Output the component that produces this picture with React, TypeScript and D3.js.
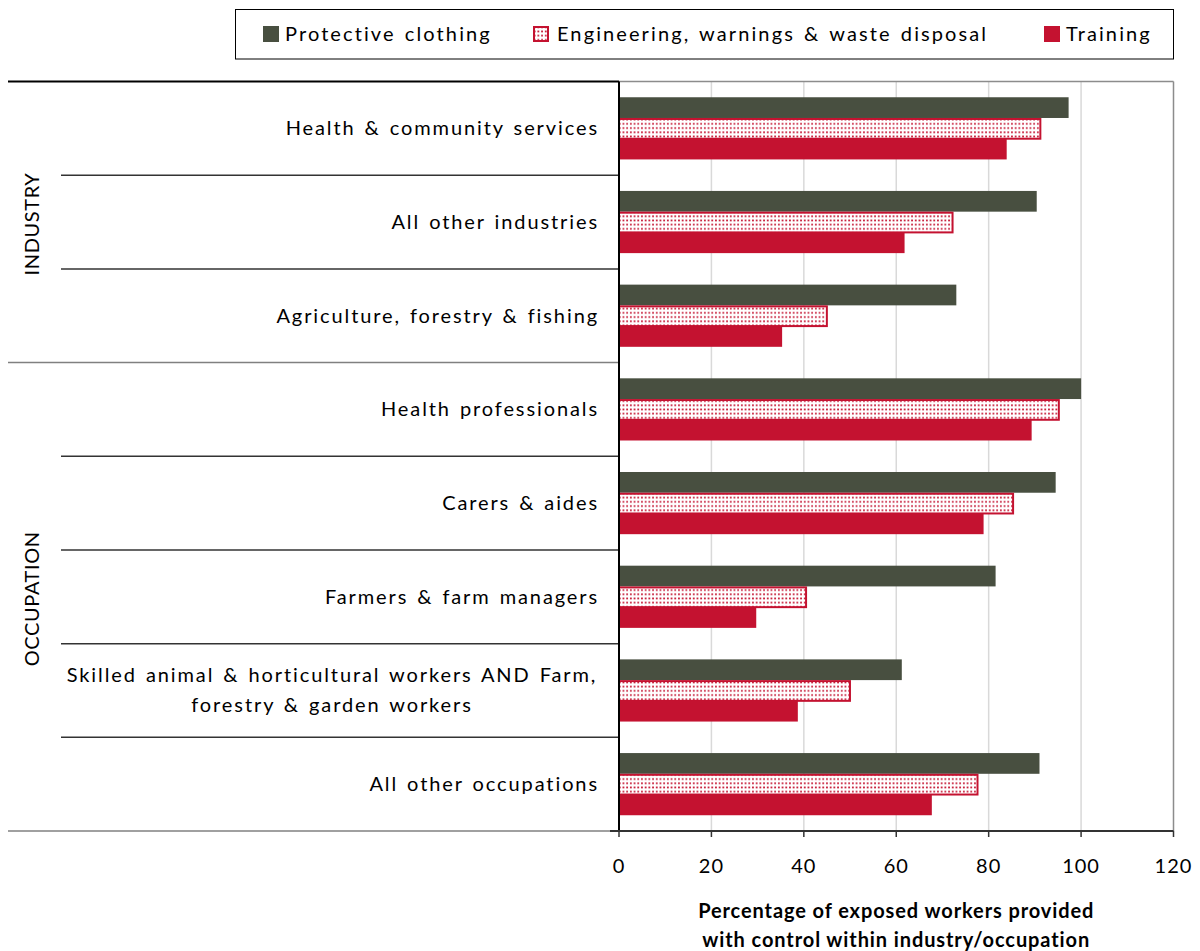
import React from "react";
import * as d3 from "d3";

const categories = [
  "Health & community services",
  "All other industries",
  "Agriculture, forestry & fishing",
  "Health professionals",
  "Carers & aides",
  "Farmers & farm managers",
  "Skilled animal & horticultural workers AND Farm,|forestry & garden workers",
  "All other occupations",
];
const groups = [
  { name: "INDUSTRY", from: 0, to: 3 },
  { name: "OCCUPATION", from: 3, to: 8 },
];
const seriesNames = ["Protective clothing", "Engineering, warnings & waste disposal", "Training"];
const protectiveClothing = [97.3, 90.4, 73.0, 100.0, 94.5, 81.5, 61.2, 91.0];
const engineering = [91.4, 72.4, 45.2, 95.4, 85.5, 40.7, 50.2, 77.8];
const training = [83.9, 61.8, 35.3, 89.3, 78.9, 29.7, 38.7, 67.7];
const xTicks = [0, 20, 40, 60, 80, 100, 120];
const axisTitle = ["Percentage of exposed workers provided", "with control within industry/occupation"];

const DARK = "#484f40";
const RED = "#c41230";
const FONT = "Lato, 'Open Sans', sans-serif";

export default function App() {
  const left = 619, right = 1173.5, top = 81.5, bottom = 831;
  const x = d3.scaleLinear().domain([0, 120]).range([left, right]);
  const y = d3.scaleBand<number>().domain(d3.range(categories.length)).range([top, bottom]).paddingInner(0).paddingOuter(0);
  const inner = d3.scaleBand<number>().domain([0, 1, 2]).range([0, y.bandwidth()]).paddingInner(0).paddingOuter(0.76);
  const series = [protectiveClothing, engineering, training];
  const fills = [DARK, "url(#dots)", RED];

  return (
    <svg width={1200} height={951} style={{ position: "absolute", left: 0, top: 0, background: "#fff" }} fontFamily={FONT}>
      <defs>
        <pattern id="dots" patternUnits="userSpaceOnUse" width={3.7} height={4.2}>
          <rect width={3.7} height={4.2} fill="#fff" />
          <rect x={1} y={1.2} width={1.7} height={1.7} fill={RED} />
        </pattern>
      </defs>
      {/* legend */}
      <rect x={235.5} y={9.5} width={938} height={49.5} fill="#fff" stroke="#000" strokeWidth={1} />
      {[
        { sx: 263, tx: 285 },
        { sx: 533, tx: 557 },
        { sx: 1044, tx: 1066 },
      ].map((p, i) => (
        <g key={i}>
          {i === 1 ? (
            <rect x={p.sx + 1} y={27} width={14} height={14} fill="url(#dots)" stroke={RED} strokeWidth={2} />
          ) : (
            <rect x={p.sx} y={26} width={16} height={16} fill={fills[i]} />
          )}
          <text x={p.tx} y={41} fontSize={20} letterSpacing={2.1} wordSpacing={2} fill="#000">{seriesNames[i]}</text>
        </g>
      ))}
      {/* gridlines */}
      {xTicks.slice(1, -1).map((t) => (
        <line key={t} x1={x(t)} x2={x(t)} y1={top} y2={bottom} stroke="#d9d9d9" strokeWidth={1.5} />
      ))}
      {/* plot border top/right */}
      <line x1={left} x2={right} y1={top} y2={top} stroke="#8c8c8c" strokeWidth={1.5} />
      <line x1={right} x2={right} y1={top} y2={bottom} stroke="#8c8c8c" strokeWidth={1.5} />
      {/* bars */}
      {categories.map((c, i) =>
        series.map((s, k) => {
          const by = (y(i) as number) + (inner(k) as number);
          const bh = inner.bandwidth();
          if (k === 1) {
            return (
              <rect key={`${i}-${k}`} x={x(0)} y={by + 1} width={x(s[i]) - x(0) - 1} height={bh - 1}
                fill="url(#dots)" stroke={RED} strokeWidth={2} />
            );
          }
          return <rect key={`${i}-${k}`} x={x(0)} y={by} width={x(s[i]) - x(0)} height={bh} fill={fills[k]} />;
        })
      )}
      {/* category separator lines */}
      {d3.range(categories.length + 1).map((i) => {
        const yy = i === categories.length ? bottom : (y(i) as number);
        const isGroup = groups.some((g) => g.from === i || g.to === i);
        return (
          <line key={i} x1={isGroup ? 8 : 61} x2={left} y1={yy} y2={yy}
            stroke={i === 0 ? "#000" : isGroup ? "#808080" : "#333"} strokeWidth={i === 0 ? 2 : 1.5} />
        );
      })}
      {/* y axis line */}
      <line x1={left} x2={left} y1={top} y2={bottom} stroke="#000" strokeWidth={2} />
      {/* x axis */}
      <line x1={610} x2={right} y1={bottom} y2={bottom} stroke="#333" strokeWidth={2} />
      {xTicks.map((t) => (
        <g key={t}>
          <line x1={x(t)} x2={x(t)} y1={bottom} y2={bottom + 6} stroke="#333" strokeWidth={1.5} />
          <text x={x(t)} y={873} fontSize={20} letterSpacing={1} textAnchor="middle" fill="#000">{t}</text>
        </g>
      ))}
      {/* category labels */}
      {categories.map((c, i) => {
        const lines = c.split("|");
        const cy = (y(i) as number) + y.bandwidth() / 2;
        if (lines.length === 1) {
          return (
            <text key={i} x={599} y={cy + 7} fontSize={20} letterSpacing={1.9} wordSpacing={2} textAnchor="end" fill="#000">{c}</text>
          );
        }
        return (
          <text key={i} x={332} y={cy - 8} fontSize={20} letterSpacing={1.9} wordSpacing={2} textAnchor="middle" fill="#000">
            {lines.map((l, j) => (
              <tspan key={j} x={332} dy={j === 0 ? 0 : 30}>{l}</tspan>
            ))}
          </text>
        );
      })}
      {/* group labels */}
      {groups.map((g) => {
        const cy = ((y(g.from) as number) + (g.to === categories.length ? bottom : (y(g.to) as number))) / 2;
        return (
          <text key={g.name} transform={`translate(39,${cy + 2}) rotate(-90)`} fontSize={20} letterSpacing={0.6} textAnchor="middle" fill="#000">{g.name}</text>
        );
      })}
      {/* axis title */}
      {axisTitle.map((t, j) => (
        <text key={j} x={(left + right) / 2} y={918 + j * 29} fontSize={20} letterSpacing={0.9} fontWeight="bold" textAnchor="middle" fill="#000">{t}</text>
      ))}
    </svg>
  );
}
